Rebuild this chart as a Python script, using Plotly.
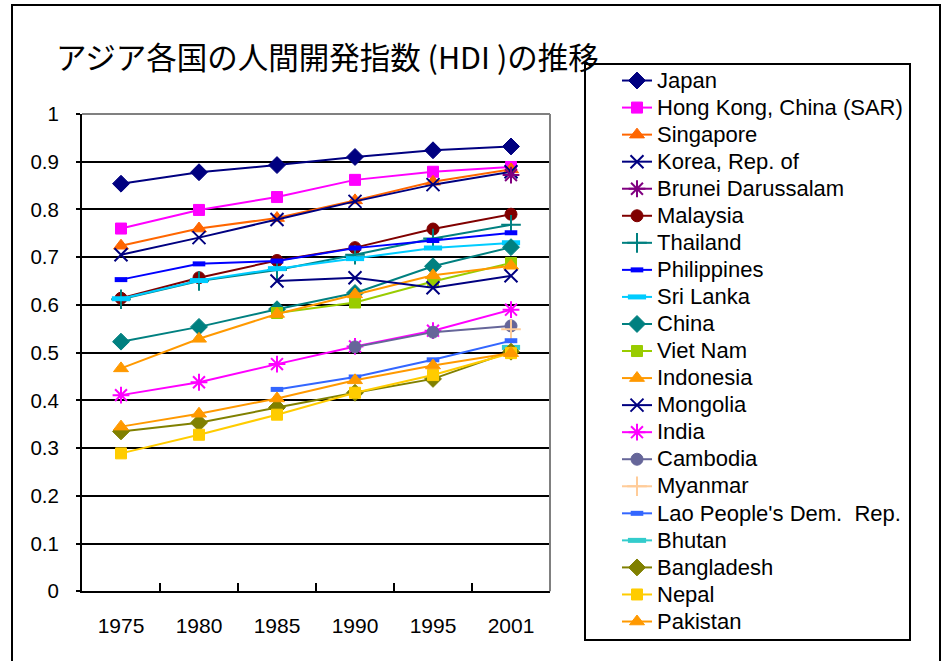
import plotly.graph_objects as go

# ---------------- data ----------------
years = ["1975", "1980", "1985", "1990", "1995", "2001"]

japan       = [0.854, 0.878, 0.893, 0.910, 0.924, 0.932]
hong_kong   = [0.760, 0.799, 0.826, 0.862, 0.879, 0.889]
singapore   = [0.724, 0.760, 0.782, 0.819, 0.858, 0.884]
korea       = [0.705, 0.741, 0.779, 0.817, 0.852, 0.879]
brunei      = [None, None, None, None, None, 0.872]
malaysia    = [0.614, 0.657, 0.693, 0.720, 0.759, 0.790]
thailand    = [0.612, 0.650, 0.673, 0.705, 0.739, 0.768]
philippines = [0.653, 0.686, 0.692, 0.719, 0.735, 0.751]
sri_lanka   = [0.613, 0.651, 0.676, 0.697, 0.719, 0.730]
china       = [0.523, 0.554, 0.591, 0.625, 0.681, 0.721]
viet_nam    = [None, None, 0.583, 0.605, 0.649, 0.688]
indonesia   = [0.467, 0.529, 0.581, 0.622, 0.662, 0.682]
mongolia    = [None, None, 0.650, 0.657, 0.636, 0.661]
india       = [0.411, 0.438, 0.476, 0.513, 0.546, 0.590]
cambodia    = [None, None, None, 0.512, 0.543, 0.556]
myanmar     = [None, None, None, None, None, 0.549]
lao         = [None, None, 0.423, 0.449, 0.485, 0.525]
bhutan      = [None, None, None, None, None, 0.511]
bangladesh  = [0.335, 0.353, 0.385, 0.416, 0.445, 0.502]
nepal       = [0.289, 0.328, 0.370, 0.416, 0.453, 0.499]
pakistan    = [0.345, 0.372, 0.404, 0.442, 0.473, 0.499]

y_tick_vals = [0, 0.1, 0.2, 0.3, 0.4, 0.5, 0.6, 0.7, 0.8, 0.9, 1]
y_tick_text = ["0", "0.1", "0.2", "0.3", "0.4", "0.5", "0.6", "0.7", "0.8", "0.9", "1"]

title_text = "アジア各国の人間開発指数 (HDI )の推移"

# (name, values, color, symbol, size, line width of marker)
series = [
    ("Japan", japan, "#000080", "diamond", 13, 0),
    ("Hong Kong, China (SAR)", hong_kong, "#FF00FF", "square", 11, 0),
    ("Singapore", singapore, "#FF6600", "triangle-up", 13, 0),
    ("Korea, Rep. of", korea, "#000080", "x-thin-open", 13, 2),
    ("Brunei Darussalam", brunei, "#800080", "asterisk-open", 14, 2),
    ("Malaysia", malaysia, "#800000", "circle", 12, 0),
    ("Thailand", thailand, "#008080", "cross-thin-open", 14, 2),
    ("Philippines", philippines, "#0000FF", "line-ew-open", 9, 5),
    ("Sri Lanka", sri_lanka, "#00CCFF", "line-ew-open", 13, 5),
    ("China", china, "#008080", "diamond", 13, 0),
    ("Viet Nam", viet_nam, "#99CC00", "square", 11, 0),
    ("Indonesia", indonesia, "#FF9900", "triangle-up", 13, 0),
    ("Mongolia", mongolia, "#000080", "x-thin-open", 13, 2),
    ("India", india, "#FF00FF", "asterisk-open", 14, 2),
    ("Cambodia", cambodia, "#666699", "circle", 12, 0),
    ("Myanmar", myanmar, "#FFCC99", "cross-thin-open", 14, 2),
    ("Lao People's Dem.  Rep.", lao, "#3366FF", "line-ew-open", 9, 5),
    ("Bhutan", bhutan, "#33CCCC", "line-ew-open", 13, 5),
    ("Bangladesh", bangladesh, "#808000", "diamond", 13, 0),
    ("Nepal", nepal, "#FFCC00", "square", 11, 0),
    ("Pakistan", pakistan, "#FF9900", "triangle-up", 13, 0),
]

# ---------------- layout helpers (pixel -> paper, zero margins) ----------------
W, H = 945, 661
PLOT_L, PLOT_R, PLOT_T, PLOT_B = 82, 550, 114, 591.3
LEGEND_TEXT_PX = 22


def px(x):
    return x / W


def py(y):
    return (H - y) / H


fig = go.Figure()
for name, vals, color, sym, size, lw in series:
    marker = dict(symbol=sym, size=size, color=color,
                  line=dict(color=color, width=lw if lw else 1))
    fig.add_trace(go.Scatter(
        x=years, y=vals,
        name=f"<span style='font-size:{LEGEND_TEXT_PX}px'>{name}</span>",
        mode="lines+markers",
        line=dict(color=color, width=2),
        marker=marker, connectgaps=False,
    ))

font_latin = "Liberation Sans, Arial, sans-serif"

fig.update_layout(
    width=W, height=H,
    margin=dict(l=0, r=0, t=0, b=0, pad=0),
    paper_bgcolor="white", plot_bgcolor="white",
    font=dict(family=font_latin, color="black"),
    showlegend=True,
    legend=dict(
        x=px(617), xanchor="left", y=py(62), yanchor="top",
        xref="paper", yref="paper",
        font=dict(family=font_latin, size=18.5, color="black"),
        bgcolor="rgba(0,0,0,0)", borderwidth=0,
        traceorder="normal",
    ),
    xaxis=dict(
        domain=[px(PLOT_L), px(PLOT_R)], automargin=False,
        type="category", categoryorder="array", categoryarray=years,
        range=[-0.5, 5.5], showgrid=False, zeroline=False,
        showline=True, linecolor="black", linewidth=2,
        ticks="inside", tickson="boundaries", ticklen=8,
        tickwidth=2, tickcolor="black",
        tickfont=dict(size=21, family=font_latin, color="black"),
        ticklabelstandoff=14,
    ),
    yaxis=dict(
        domain=[py(PLOT_B), py(PLOT_T)], automargin=False,
        range=[0, 1], tickvals=y_tick_vals, ticktext=y_tick_text,
        showgrid=True, gridcolor="black", gridwidth=1.5,
        zeroline=False, showline=True, linecolor="black", linewidth=2,
        ticks="outside", ticklen=4, tickwidth=2, tickcolor="black",
        tickfont=dict(size=20.5, family=font_latin, color="black"),
        ticklabelstandoff=13,
    ),
    annotations=[dict(
        text=title_text, xref="paper", yref="paper",
        x=px(54), y=py(56), xanchor="left", yanchor="middle",
        showarrow=False,
        font=dict(family="Noto Sans CJK JP", size=30.5, color="black"),
    )],
    shapes=[
        # plot-area top and right border (gray)
        dict(type="line", xref="x domain", yref="y domain", x0=0, x1=1, y0=1, y1=1,
             line=dict(color="#808080", width=2), layer="above"),
        dict(type="line", xref="x domain", yref="y domain", x0=1, x1=1, y0=0, y1=1,
             line=dict(color="#808080", width=2), layer="above"),
        # legend box
        dict(type="rect", xref="paper", yref="paper",
             x0=px(585), x1=px(910), y0=py(640), y1=py(64),
             line=dict(color="black", width=2), layer="above"),
        # outer chart border
        dict(type="rect", xref="paper", yref="paper",
             x0=px(12), x1=px(940), y0=py(700), y1=py(5),
             line=dict(color="black", width=2), layer="above"),
    ],
)

fig.write_html("out.html")
